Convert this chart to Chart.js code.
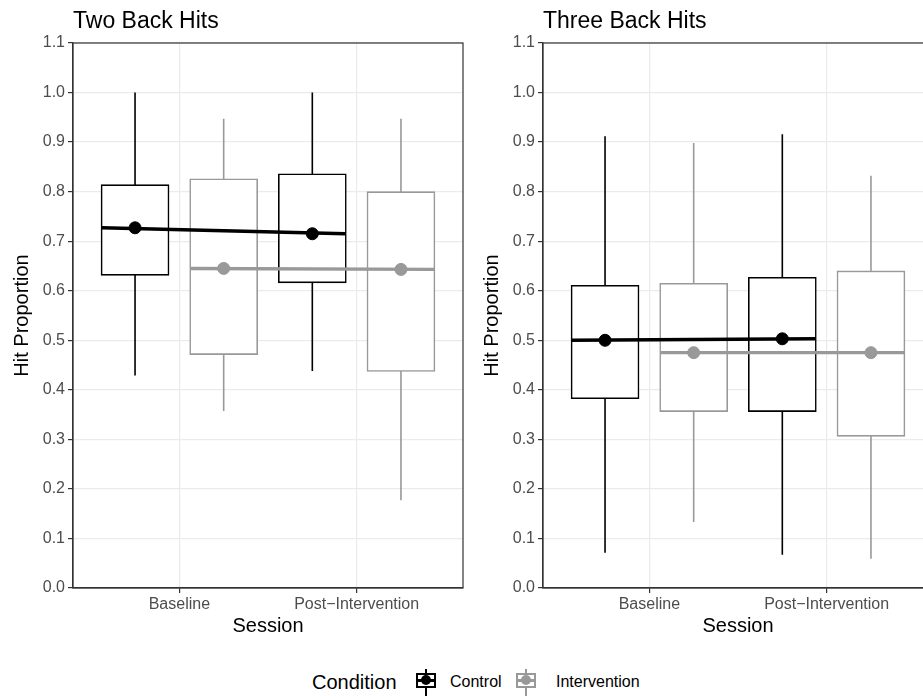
<!DOCTYPE html>
<html>
<head>
<meta charset="utf-8">
<script src="https://cdn.jsdelivr.net/npm/chart.js@4"></script>
<style>
  html, body { margin: 0; padding: 0; background: #fff; overflow: hidden; }
  body { width: 923px; height: 696px; position: relative; font-family: "Liberation Sans", Arial, sans-serif; }
  .panel { position: absolute; top: 0; width: 470px; height: 640px; }
  .ptitle { position: absolute; top: 9px; font-size: 23px; line-height: 23px; color: #000; white-space: nowrap; }
  .lg { position: absolute; white-space: nowrap; color: #000; }
  .key { position: absolute; top: 669px; width: 20px; height: 27px; overflow: hidden; }
  .key .wh { position: absolute; left: 9px; top: 0; width: 2px; height: 27px; }
  .key .bx { position: absolute; left: 0; top: 4px; width: 16px; height: 11px; border: 2px solid; background: #fff; }
  .key .md { position: absolute; left: 0; top: 10px; width: 20px; height: 3px; }
  .key .pt { position: absolute; left: 5px; top: 6px; width: 10px; height: 10px; border-radius: 50%; }
</style>
</head>
<body>
<div class="panel" style="left:0"><canvas id="twoBack" width="470" height="640"></canvas></div>
<div class="panel" style="left:470px"><canvas id="threeBack" width="470" height="640"></canvas></div>
<div class="ptitle" style="left:73px">Two Back Hits</div>
<div class="ptitle" style="left:543px">Three Back Hits</div>

<div class="lg" style="left:312px; top:670px; font-size:20px; line-height:24px">Condition</div>
<div class="key" style="left:416px">
  <div class="wh" style="background:#000"></div>
  <div class="bx" style="border-color:#000"></div>
  <div class="md" style="background:#000"></div>
  <div class="pt" style="background:#000"></div>
</div>
<div class="lg" style="left:450px; top:672px; font-size:16px; line-height:20px">Control</div>
<div class="key" style="left:516px">
  <div class="wh" style="background:#999"></div>
  <div class="bx" style="border-color:#999"></div>
  <div class="md" style="background:#999"></div>
  <div class="pt" style="background:#999"></div>
</div>
<div class="lg" style="left:556px; top:672px; font-size:16px; line-height:20px">Intervention</div>

<script>
const sessions = ["Baseline", "Post\u2212Intervention"];
const conditions = ["Control", "Intervention"];
const colors = { Control: "#000000", Intervention: "#999999" };

// Two Back Hits: [Baseline, Post-Intervention]
const twoBackMin   = { Control: [0.429, 0.438], Intervention: [0.357, 0.177] };
const twoBackQ1    = { Control: [0.631, 0.616], Intervention: [0.471, 0.437] };
const twoBackQ3    = { Control: [0.814, 0.836], Intervention: [0.826, 0.800] };
const twoBackMax   = { Control: [1.000, 1.000], Intervention: [0.947, 0.947] };
const twoBackMean  = { Control: [0.727, 0.715], Intervention: [0.645, 0.643] };

// Three Back Hits
const threeBackMin  = { Control: [0.071, 0.067], Intervention: [0.133, 0.059] };
const threeBackQ1   = { Control: [0.382, 0.356], Intervention: [0.356, 0.306] };
const threeBackQ3   = { Control: [0.611, 0.627], Intervention: [0.615, 0.640] };
const threeBackMax  = { Control: [0.912, 0.916], Intervention: [0.898, 0.832] };
const threeBackMean = { Control: [0.500, 0.503], Intervention: [0.475, 0.475] };

const yTicks = [0, 0.1, 0.2, 0.3, 0.4, 0.5, 0.6, 0.7, 0.8, 0.9, 1.0, 1.1];

const dodge = { Control: -0.25, Intervention: 0.25 };
const halfBox = 0.1875;

// draws the full panel border like theme_bw
const frame = {
  id: "frame",
  afterDraw(chart) {
    const a = chart.chartArea, c = chart.ctx;
    c.save();
    c.strokeStyle = "#333333";
    c.lineWidth = 1.2;
    c.strokeRect(a.left, a.top, a.right - a.left, a.bottom - a.top);
    c.restore();
  }
};

function buildDatasets(mins, q1, q3, maxs, means) {
  const ds = [];
  conditions.forEach(cond => {
    const col = colors[cond];
    const whisk = [];
    sessions.forEach((s, i) => {
      const x = i + 1 + dodge[cond];
      whisk.push({ x, y: mins[cond][i] }, { x, y: maxs[cond][i] }, { x, y: null });
    });
    ds.push({
      type: "line", data: whisk, borderColor: col, borderWidth: 1.6,
      pointRadius: 0, spanGaps: false, order: 10
    });
    ds.push({
      type: "bar",
      data: sessions.map((s, i) => ({ x: i + 1 + dodge[cond], y: [q1[cond][i], q3[cond][i]] })),
      backgroundColor: "#ffffff", borderColor: col, borderWidth: 1.6,
      borderSkipped: false, barThickness: 68, grouped: false, order: 8
    });
    ds.push({
      type: "line",
      data: [
        { x: 1 + dodge[cond] - halfBox, y: means[cond][0] },
        { x: 2 + dodge[cond] + halfBox, y: means[cond][1] }
      ],
      borderColor: col, borderWidth: 3.4, pointRadius: 0, order: 4
    });
    ds.push({
      type: "scatter",
      data: sessions.map((s, i) => ({ x: i + 1 + dodge[cond], y: means[cond][i] })),
      backgroundColor: col, borderColor: col, pointRadius: 6, order: 2
    });
  });
  return ds;
}

function makeChart(id, mins, q1, q3, maxs, means, padRight) {
  const ctx = document.getElementById(id).getContext("2d");
  return new Chart(ctx, {
    type: "bar",
    data: { datasets: buildDatasets(mins, q1, q3, maxs, means) },
    plugins: [frame],
    options: {
      responsive: false,
      animation: false,
      events: [],
      layout: { padding: { top: 43, right: padRight, bottom: 0, left: 0 } },
      plugins: { legend: { display: false }, tooltip: { enabled: false } },
      scales: {
        x: {
          type: "linear", min: 0.4, max: 2.6, offset: false,
          afterBuildTicks: s => { s.ticks = sessions.map((n, i) => ({ value: i + 1 })); },
          afterFit: s => { s.height = 52; },
          ticks: {
            callback: v => sessions[Math.round(v) - 1],
            color: "#4d4d4d", font: { size: 16, family: "Liberation Sans" }, padding: 2,
            maxRotation: 0, autoSkip: false
          },
          grid: { color: "#ebebeb", lineWidth: 1.2, tickColor: "#333333", tickLength: 5, offset: false },
          border: { color: "#333333", width: 1.2 },
          title: {
            display: true, text: "Session", color: "#000",
            font: { size: 20, family: "Liberation Sans" }, padding: { top: 0, bottom: 2 }
          }
        },
        y: {
          min: 0, max: 1.1,
          afterBuildTicks: s => { s.ticks = yTicks.map(v => ({ value: v })); },
          afterFit: s => { s.width = 73; },
          ticks: {
            callback: v => v.toFixed(1),
            color: "#4d4d4d", font: { size: 16, family: "Liberation Sans" }, padding: 3
          },
          grid: { color: "#ebebeb", lineWidth: 1.2, tickColor: "#333333", tickLength: 5 },
          border: { color: "#333333", width: 1.2 },
          title: {
            display: true, text: "Hit Proportion", color: "#000",
            font: { size: 20, family: "Liberation Sans" }, padding: { top: 10, bottom: 0 }
          }
        }
      }
    }
  });
}

makeChart("twoBack", twoBackMin, twoBackQ1, twoBackQ3, twoBackMax, twoBackMean, 5);
makeChart("threeBack", threeBackMin, threeBackQ1, threeBackQ3, threeBackMax, threeBackMean, 4);
</script>
</body>
</html>
